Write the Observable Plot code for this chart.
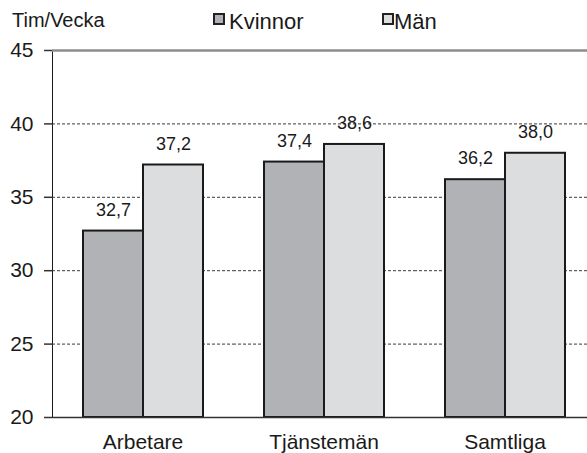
<!DOCTYPE html>
<html><head><meta charset="utf-8">
<script src="https://cdn.jsdelivr.net/npm/d3@7"></script>
<script src="https://cdn.jsdelivr.net/npm/@observablehq/plot@0.6"></script>
<style>
html,body{margin:0;padding:0;background:#fff;overflow:hidden}
#wrap{position:relative;width:587px;height:453px;font-family:"Liberation Sans",Arial,sans-serif;color:#1a1a1a}
#title{position:absolute;left:12px;top:10px;font-size:20px;line-height:20px}
.sw{position:absolute;top:13px;width:12px;height:12px;box-sizing:border-box;border:2px solid #222}
.lt{position:absolute;top:11px;font-size:22px;line-height:22px}
#chart{position:absolute;left:0;top:0}
</style></head>
<body>
<div id="wrap">
  <div id="chart"></div>
  <div id="title">Tim/Vecka</div>
  <div class="sw" id="sw0" style="left:213px"></div><div class="lt" id="lt0" style="left:229px"></div>
  <div class="sw" id="sw1" style="left:382px"></div><div class="lt" id="lt1" style="left:394px"></div>
</div>
<script>
const categories = ["Arbetare", "Tjänstemän", "Samtliga"];
const series = ["Kvinnor", "Män"];
const kvinnor = [32.7, 37.4, 36.2];
const man = [37.2, 38.6, 38.0];
const colors = ["#b1b2b5", "#dcdddf"];
const yTicks = [20, 25, 30, 35, 40, 45];
const gridTicks = [25, 30, 35, 40];

const data = [];
categories.forEach((c, i) => {
  data.push({category: c, series: series[0], value: kvinnor[i]});
  data.push({category: c, series: series[1], value: man[i]});
});

series.forEach((s, i) => {
  document.getElementById("sw" + i).style.background = colors[i];
  document.getElementById("lt" + i).textContent = s;
});

const fmt = v => v.toFixed(1).replace(".", ",");

const chart = Plot.plot({
  width: 587,
  height: 453,
  marginTop: 50,
  marginBottom: 36,
  marginLeft: 52,
  marginRight: -8,
  style: {fontFamily: '"Liberation Sans", Arial, sans-serif', color: "#1a1a1a", background: "transparent"},
  fx: {domain: categories, padding: 0, label: null, axis: "bottom", tickSize: 0, tickPadding: 17, fontSize: 21},
  x: {domain: series, paddingInner: 0, paddingOuter: 0.5, axis: null},
  y: {domain: [20, 45], ticks: yTicks, tickSize: 8, tickPadding: 11, label: null, line: true, fontSize: 21},
  color: {domain: series, range: colors},
  marks: [
    Plot.ruleY(gridTicks, {stroke: "#3a3a3a", strokeWidth: 1, strokeDasharray: "3,2"}),
    Plot.ruleY([45], {stroke: "#8c8c8c", strokeWidth: 2.5}),
    Plot.barY(data, {fx: "category", x: "series", y1: 20, y2: "value", fill: "series", stroke: "#1a1a1a", strokeWidth: 2}),
    Plot.ruleY([20], {stroke: "#333", strokeWidth: 1.5}),
    Plot.text(data, {fx: "category", x: "series", y: "value", text: d => fmt(d.value), dy: -21, fontSize: 18, fill: "#1a1a1a"})
  ]
});
document.getElementById("chart").appendChild(chart);
d3.select(chart).selectAll("[aria-label='y-axis tick label'] text, [aria-label='fx-axis tick label'] text").attr("font-size", 21);
d3.select(chart).selectAll("[aria-label='y-axis line'], [aria-label='y-axis line'] *").attr("stroke", "#555").attr("stroke-width", 2);
d3.select(chart).selectAll("[aria-label='y-axis tick'], [aria-label='y-axis tick'] *").attr("stroke", "#333").attr("stroke-width", 1.5);
</script>
</body></html>
